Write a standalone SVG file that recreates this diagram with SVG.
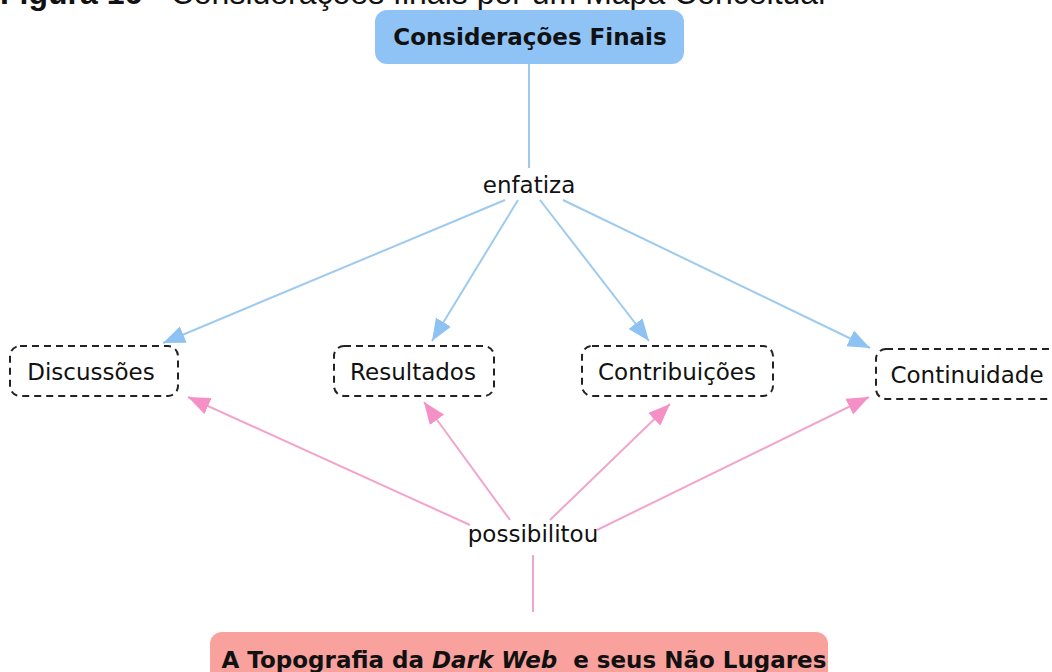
<svg xmlns="http://www.w3.org/2000/svg" width="1052" height="672" viewBox="0 0 1052 672">
<defs>
<style>
.lbl{font-family:"DejaVu Sans",Verdana,sans-serif;font-size:23px;fill:#111;text-anchor:middle}
.bold{font-family:"DejaVu Sans",Verdana,sans-serif;font-weight:bold;fill:#111;text-anchor:middle}
.cap{font-family:"Liberation Sans",Arial,sans-serif;font-size:32px;fill:#111}
.dash{fill:#fff;stroke:#222;stroke-width:2;stroke-dasharray:7 5}
.blue{stroke:#9ECAEF;stroke-width:2;fill:none}
.pink{stroke:#F2A5CC;stroke-width:2;fill:none}
</style>
<marker id="ab" viewBox="0 0 20 16" refX="20" refY="8" markerWidth="22" markerHeight="18" markerUnits="userSpaceOnUse" orient="auto"><path d="M0,0 L20,8 L0,16 Z" fill="#8EC2F3"/></marker>
<marker id="ap" viewBox="0 0 20 16" refX="20" refY="8" markerWidth="22" markerHeight="18" markerUnits="userSpaceOnUse" orient="auto"><path d="M0,0 L20,8 L0,16 Z" fill="#F590C6"/></marker>
</defs>
<rect width="1052" height="672" fill="#fff"/>
<text class="cap" x="0" y="4"><tspan font-weight="bold">Figura 16</tspan> - Considerações finais por um Mapa Conceitual</text>
<g id="connectors">
<line class="blue" x1="529" y1="64" x2="529" y2="168"/>
<line class="blue" x1="505" y1="200" x2="163" y2="343" marker-end="url(#ab)"/>
<line class="blue" x1="518" y1="200" x2="432" y2="341" marker-end="url(#ab)"/>
<line class="blue" x1="540" y1="200" x2="649" y2="341" marker-end="url(#ab)"/>
<line class="blue" x1="563" y1="200" x2="870" y2="348" marker-end="url(#ab)"/>
<line class="pink" x1="533" y1="555" x2="533" y2="612"/>
<line class="pink" x1="470" y1="525" x2="188" y2="397" marker-end="url(#ap)"/>
<line class="pink" x1="510" y1="520" x2="424" y2="402" marker-end="url(#ap)"/>
<line class="pink" x1="550" y1="520" x2="670" y2="404" marker-end="url(#ap)"/>
<line class="pink" x1="597" y1="530" x2="869" y2="397" marker-end="url(#ap)"/>
</g>
<g id="consideracoes">
<rect x="375" y="10" width="309" height="54" rx="12" fill="#8FC3F5"/>
<text class="bold" x="530" y="45" font-size="23">Considerações Finais</text>
</g>
<g id="enfatiza"><text class="lbl" x="529" y="193">enfatiza</text></g>
<g id="discussoes">
<rect class="dash" x="10" y="346" width="168" height="50" rx="10"/>
<text class="lbl" x="91" y="380">Discussões</text>
</g>
<g id="resultados">
<rect class="dash" x="334" y="346" width="160" height="50" rx="10"/>
<text class="lbl" x="413" y="380">Resultados</text>
</g>
<g id="contribuicoes">
<rect class="dash" x="582" y="346" width="191" height="50" rx="10"/>
<text class="lbl" x="677" y="380">Contribuições</text>
</g>
<g id="continuidade">
<rect class="dash" x="876" y="349" width="190" height="50" rx="10"/>
<text class="lbl" x="967" y="383">Continuidade</text>
</g>
<g id="possibilitou"><text class="lbl" x="533" y="542">possibilitou</text></g>
<g id="topografia">
<rect x="210" y="632" width="618" height="60" rx="12" fill="#F9A19D"/>
<text class="bold" x="524" y="668" font-size="23" xml:space="preserve">A Topografia da <tspan font-style="italic">Dark Web</tspan>  e seus Não Lugares</text>
</g>
</svg>
